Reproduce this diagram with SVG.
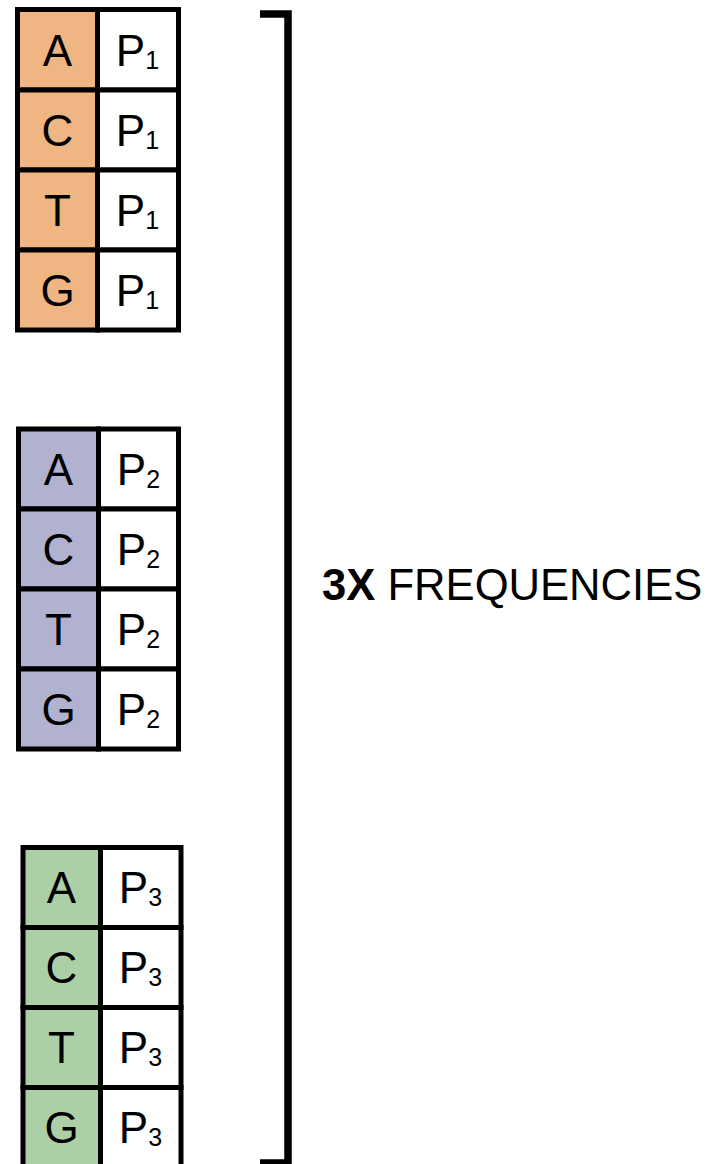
<svg xmlns="http://www.w3.org/2000/svg" width="712" height="1164" viewBox="0 0 712 1164">
<style>
.c{stroke:#000;stroke-width:5}
.o{fill:#EFB582}
.p{fill:#B0B2D0}
.g{fill:#ACCFA8}
.w{fill:#fff}
text{font-family:"Liberation Sans",Arial,sans-serif;font-size:44px;fill:#000;text-anchor:middle}
.sub{font-size:25px}
</style>
<rect width="712" height="1164" fill="#fff"/>
<g id="block1">
<g id="b1-a"><rect class="c o" x="17.5" y="9.5" width="80" height="80.5"/><rect class="c w" x="97.5" y="9.5" width="81" height="80.5"/><text x="57.5" y="65.5">A</text><text x="137.5" y="65.5">P<tspan class="sub" dy="3">1</tspan></text></g>
<g id="b1-c"><rect class="c o" x="17.5" y="90" width="80" height="80"/><rect class="c w" x="97.5" y="90" width="81" height="80"/><text x="57.5" y="145.5">C</text><text x="137.5" y="145.5">P<tspan class="sub" dy="3">1</tspan></text></g>
<g id="b1-t"><rect class="c o" x="17.5" y="170" width="80" height="80"/><rect class="c w" x="97.5" y="170" width="81" height="80"/><text x="57.5" y="225.5">T</text><text x="137.5" y="225.5">P<tspan class="sub" dy="3">1</tspan></text></g>
<g id="b1-g"><rect class="c o" x="17.5" y="250" width="80" height="80"/><rect class="c w" x="97.5" y="250" width="81" height="80"/><text x="57.5" y="305.5">G</text><text x="137.5" y="305.5">P<tspan class="sub" dy="3">1</tspan></text></g>
</g>
<g id="block2">
<g id="b2-a"><rect class="c p" x="18.5" y="429" width="80" height="80"/><rect class="c w" x="98.5" y="429" width="80" height="80"/><text x="58.5" y="485">A</text><text x="138.5" y="485">P<tspan class="sub" dy="3">2</tspan></text></g>
<g id="b2-c"><rect class="c p" x="18.5" y="509" width="80" height="80"/><rect class="c w" x="98.5" y="509" width="80" height="80"/><text x="58.5" y="565">C</text><text x="138.5" y="565">P<tspan class="sub" dy="3">2</tspan></text></g>
<g id="b2-t"><rect class="c p" x="18.5" y="589" width="80" height="80"/><rect class="c w" x="98.5" y="589" width="80" height="80"/><text x="58.5" y="645">T</text><text x="138.5" y="645">P<tspan class="sub" dy="3">2</tspan></text></g>
<g id="b2-g"><rect class="c p" x="18.5" y="669" width="80" height="80"/><rect class="c w" x="98.5" y="669" width="80" height="80"/><text x="58.5" y="725">G</text><text x="138.5" y="725">P<tspan class="sub" dy="3">2</tspan></text></g>
</g>
<g id="block3">
<g id="b3-a"><rect class="c g" x="23" y="847.5" width="77.5" height="80"/><rect class="c w" x="100.5" y="847.5" width="80.5" height="80"/><text x="61.5" y="903">A</text><text x="140.5" y="903">P<tspan class="sub" dy="3">3</tspan></text></g>
<g id="b3-c"><rect class="c g" x="23" y="927.5" width="77.5" height="80"/><rect class="c w" x="100.5" y="927.5" width="80.5" height="80"/><text x="61.5" y="983">C</text><text x="140.5" y="983">P<tspan class="sub" dy="3">3</tspan></text></g>
<g id="b3-t"><rect class="c g" x="23" y="1007.5" width="77.5" height="80"/><rect class="c w" x="100.5" y="1007.5" width="80.5" height="80"/><text x="61.5" y="1063">T</text><text x="140.5" y="1063">P<tspan class="sub" dy="3">3</tspan></text></g>
<g id="b3-g"><rect class="c g" x="23" y="1087.5" width="77.5" height="80"/><rect class="c w" x="100.5" y="1087.5" width="80.5" height="80"/><text x="61.5" y="1143">G</text><text x="140.5" y="1143">P<tspan class="sub" dy="3">3</tspan></text></g>
</g>
<g id="connectors">
<path d="M260 14 H288 V1163 H260" fill="none" stroke="#000" stroke-width="7.5"/>
</g>
<g id="label">
<text x="322" y="600" style="text-anchor:start;font-size:43.6px"><tspan font-weight="bold">3X</tspan> FREQUENCIES</text>
</g>
</svg>
